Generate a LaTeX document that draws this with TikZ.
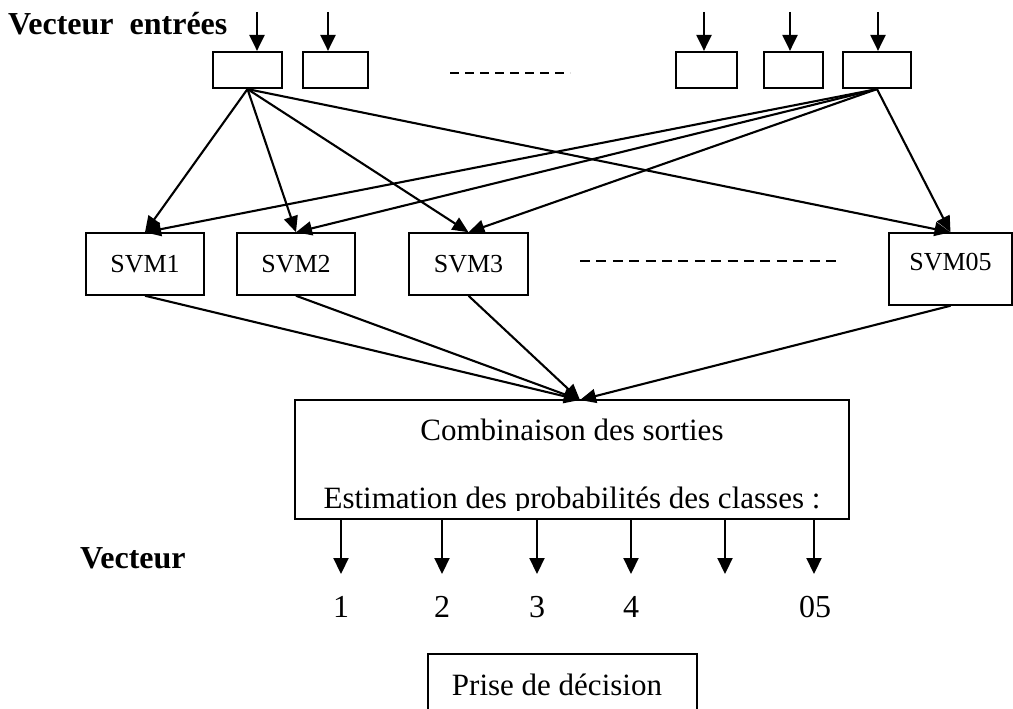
\documentclass[tikz,border=0pt]{standalone}
\usepackage{fontspec}
\usetikzlibrary{arrows.meta}
\newfontfamily\tnr{Liberation Serif}
\begin{document}
\begin{tikzpicture}[x=1pt,y=-1pt,
  inbox/.style={draw, line width=2.2pt, minimum height=36pt, inner sep=0pt},
  svmbox/.style={draw, line width=1.5pt, minimum width=118pt, minimum height=62pt,
    inner sep=0pt, font=\tnr\fontsize{26}{30}\selectfont},
  bigbox/.style={draw, line width=1.8pt, inner sep=0pt},
  arr/.style={line width=2.2pt, -{Triangle[length=16pt,width=15pt]}},
  link/.style={line width=2.1pt, -{Triangle[length=16pt,width=14pt]}},
  lbl/.style={font=\tnr\bfseries\fontsize{32}{36}\selectfont, inner sep=0pt, anchor=base west},
  txt/.style={font=\tnr\fontsize{31}{36}\selectfont, inner sep=0pt, anchor=base},
  num/.style={font=\tnr\fontsize{32}{36}\selectfont, inner sep=0pt, anchor=base},
  dots/.style={line width=1.5pt, dash pattern=on 9pt off 6pt}]
\clip (0,0) rectangle (1013,709);

% input vector cells
\node[inbox, minimum width=69pt] (e1) at (247.5,70) {};
\node[inbox, minimum width=65pt] (e2) at (335.5,70) {};
\node[inbox, minimum width=61pt] (e3) at (706.5,70) {};
\node[inbox, minimum width=59pt] (e4) at (793.5,70) {};
\node[inbox, minimum width=68pt] (e5) at (877,70) {};
\draw[dots] (450,73) -- (570,73);
\node[lbl] (vin) at (8,35) {Vecteur\ \ entrées};

% incoming arrows
\coordinate (i1) at (257,12);
\coordinate (i2) at (328,12);
\coordinate (i3) at (704,12);
\coordinate (i4) at (790,12);
\coordinate (i5) at (878,12);
\foreach \i/\e in {i1/e1,i2/e2,i3/e3,i4/e4,i5/e5}
  \draw[arr] (\i) -- (\i |- \e.north);

% SVM classifiers
\node[svmbox] (s1) at (145,264) {SVM1};
\node[svmbox] (s2) at (296,264) {SVM2};
\node[svmbox, minimum width=119pt] (s3) at (468.5,264) {SVM3};
\node[svmbox, minimum width=123pt, minimum height=0pt, text height=37pt,
  text depth=35pt, anchor=base] (s5) at (950.5,270) {SVM05};
\draw[dots, dash pattern=on 10pt off 6.4pt] (580,261) -- (840,261);

% links from inputs to classifiers
\foreach \s in {s1,s2,s3,s5} {
  \draw[link] (e1.south) -- (\s.north);
  \draw[link] (e5.south) -- (\s.north);
}

% output combination
\node[bigbox, minimum width=554pt, minimum height=119pt] (comb) at (572,459.5) {};
\node[txt] (t1) at (572,440) {Combinaison des sorties};
\begin{scope}
  \clip (296,450) rectangle (848,510);
  \node[txt] (t2) at (572,508) {Estimation des probabilités des classes :};
\end{scope}
\coordinate (m) at (580,400);
\foreach \s in {s1,s2,s3,s5}
  \draw[link] (\s.south) -- (m);

% class probability vector
\node[lbl] (vout) at (80,568) {Vecteur};
\foreach \n/\x in {p1/341,p2/442,p3/537,p4/631,p5/725,p6/814} {
  \coordinate (\n) at (\x,574);
  \draw[arr] (\n |- comb.south) -- (\n);
}
\node[num] (n1) at (341,617) {1};
\node[num] (n2) at (442,617) {2};
\node[num] (n3) at (537,617) {3};
\node[num] (n4) at (631,617) {4};
\node[num] (n5) at (815,617) {05};

% decision
\draw[line width=1.5pt] (428,720) -- (428,654) -- (697,654) -- (697,720);
\node[txt] (dec) at (557,695) {Prise de décision};
\end{tikzpicture}
\end{document}
